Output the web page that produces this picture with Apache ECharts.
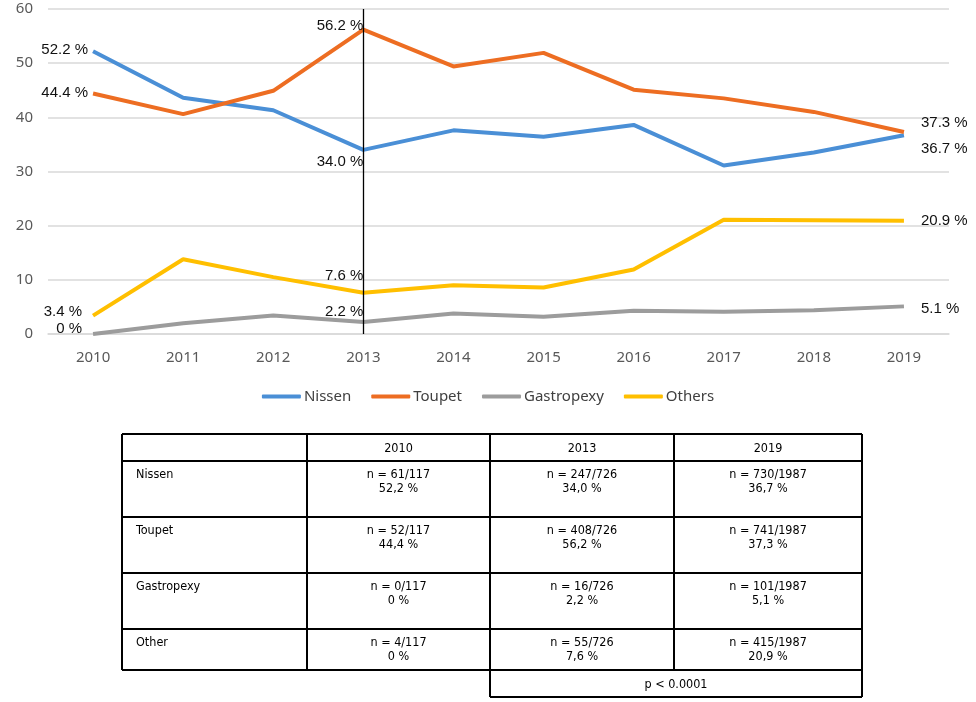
<!DOCTYPE html>
<html>
<head>
<meta charset="utf-8">
<script src="https://cdn.jsdelivr.net/npm/echarts@6/dist/echarts.min.js"></script>
<style>
  html, body { margin: 0; padding: 0; background: #fff; }
  #main { width: 976px; height: 702px; }
</style>
</head>
<body>
<div id="main"></div>
<script>
// 数据
var years = ['2010', '2011', '2012', '2013', '2014', '2015', '2016', '2017', '2018', '2019']
var nissen = [52.2, 43.6, 41.3, 34.0, 37.6, 36.4, 38.6, 31.1, 33.5, 36.7]
var toupet = [44.4, 40.6, 44.9, 56.2, 49.4, 51.9, 45.1, 43.5, 41.0, 37.3]
var gastropexy = [0, 2.0, 3.4, 2.2, 3.8, 3.2, 4.3, 4.1, 4.4, 5.1]
var others = [3.4, 13.8, 10.5, 7.6, 9.0, 8.6, 11.9, 21.1, 21.0, 20.9]
var yTicks = [0, 10, 20, 30, 40, 50, 60]

var tableYears = ['2010', '2013', '2019']
var tableRows = ['Nissen', 'Toupet', 'Gastropexy', 'Other']
var tableCounts = [
  ['n = 61/117', 'n = 247/726', 'n = 730/1987'],
  ['n = 52/117', 'n = 408/726', 'n = 741/1987'],
  ['n = 0/117', 'n = 16/726', 'n = 101/1987'],
  ['n = 4/117', 'n = 55/726', 'n = 415/1987']
]
var tablePcts = [
  ['52,2 %', '34,0 %', '36,7 %'],
  ['44,4 %', '56,2 %', '37,3 %'],
  ['0 %', '2,2 %', '5,1 %'],
  ['0 %', '7,6 %', '20,9 %']
]
var pText = 'p < 0.0001'

// 标签位置 (index -> label option)
var labelFont = { fontSize: 15, color: '#111', fontFamily: '"Liberation Sans", Arial, sans-serif' }
function withLabels(values, conf) {
  return values.map(function (v, i) {
    if (!conf[i]) return { value: v, label: { show: false } }
    return {
      value: v,
      label: Object.assign({ show: true, formatter: (v === 0 ? '0' : v.toFixed(1)) + ' %' }, labelFont, conf[i])
    }
  })
}

var myChart = echarts.init(document.getElementById('main'))

// 表格 graphic
var colX = [122, 307, 490, 674, 862]
var rowY = [434, 461, 517, 573, 629, 670]
var pBottom = 697
var tFont = '12.5px "Liberation Sans Narrow", "DejaVu Sans Condensed", Arial, sans-serif'
var graphics = []
function hLine(x1, x2, y) {
  graphics.push({ type: 'line', shape: { x1: x1, y1: y, x2: x2, y2: y }, style: { stroke: '#000', lineWidth: 2 } })
}
function vLine(x, y1, y2) {
  graphics.push({ type: 'line', shape: { x1: x, y1: y1, x2: x, y2: y2 }, style: { stroke: '#000', lineWidth: 2 } })
}
rowY.forEach(function (y) { hLine(colX[0], colX[4], y) })
colX.forEach(function (x) { vLine(x, rowY[0], rowY[rowY.length - 1]) })
hLine(colX[2], colX[4], pBottom)
vLine(colX[2], rowY[5], pBottom)
vLine(colX[4], rowY[5], pBottom)

function txt(x, y, s, align) {
  graphics.push({
    type: 'text', x: x, y: y,
    style: { text: s, font: tFont, fill: '#000', align: align || 'center', verticalAlign: 'middle' }
  })
}
tableYears.forEach(function (yr, j) {
  txt((colX[j + 1] + colX[j + 2]) / 2, (rowY[0] + rowY[1]) / 2 + 1, yr)
})
tableRows.forEach(function (name, i) {
  var top = rowY[i + 1]
  txt(colX[0] + 14, top + 14, name, 'left')
  tableCounts[i].forEach(function (c, j) {
    var cx = (colX[j + 1] + colX[j + 2]) / 2
    txt(cx, top + 14, c)
    txt(cx, top + 28, tablePcts[i][j])
  })
})
txt((colX[2] + colX[4]) / 2, (rowY[5] + pBottom) / 2 + 1, pText)

var axisFont = { fontSize: 15, color: '#595959', fontFamily: '"Noto Sans", "Open Sans", sans-serif' }

function lineSeries(name, color, data) {
  return {
    name: name, type: 'line',
    symbol: 'circle', symbolSize: 0.01, showSymbol: true,
    lineStyle: { width: 4, color: color }, itemStyle: { color: color },
    data: data
  }
}

var sNissen = lineSeries('Nissen', '#4a8fd6', withLabels(nissen, {
  0: { position: 'left', distance: 5, offset: [0, -1] },
  3: { position: 'left', distance: 0, offset: [0, 12] },
  9: { position: 'right', distance: 17, offset: [0, 14] }
}))
sNissen.markLine = {
  silent: true, symbol: 'none', label: { show: false },
  lineStyle: { color: '#000', width: 1.3, type: 'solid' },
  data: [{ xAxis: '2013' }]
}

var option = {
  animation: false,
  grid: { left: 48, right: 27, top: 9, bottom: 368 },
  legend: {
    data: ['Nissen', 'Toupet', 'Gastropexy', 'Others'],
    top: 384,
    left: 'center',
    icon: 'roundRect',
    itemWidth: 39,
    itemHeight: 4,
    itemGap: 20,
    textStyle: { fontSize: 15, color: '#404040', fontFamily: '"Noto Sans", "Open Sans", sans-serif', padding: [0, 0, 0, -2] }
  },
  xAxis: {
    type: 'category',
    data: years,
    boundaryGap: true,
    axisLine: { lineStyle: { color: '#d9d9d9', width: 1.5 } },
    axisTick: { show: false },
    axisLabel: Object.assign({ margin: 16 }, axisFont)
  },
  yAxis: {
    type: 'value',
    min: yTicks[0],
    max: yTicks[yTicks.length - 1],
    interval: 10,
    axisLine: { show: false },
    axisTick: { show: false },
    splitLine: { lineStyle: { color: '#d9d9d9', width: 1.5 } },
    axisLabel: Object.assign({ margin: 15 }, axisFont)
  },
  series: [
    sNissen,
    lineSeries('Toupet', '#ed6d22', withLabels(toupet, {
      0: { position: 'left', distance: 5, offset: [0, -1] },
      3: { position: 'left', distance: 0, offset: [0, -4] },
      9: { position: 'right', distance: 17, offset: [0, -9] }
    })),
    lineSeries('Gastropexy', '#9c9c9c', withLabels(gastropexy, {
      0: { position: 'left', distance: 11, offset: [0, -5] },
      3: { position: 'left', distance: 0, offset: [0, -10] },
      9: { position: 'right', distance: 17, offset: [0, 2] }
    })),
    lineSeries('Others', '#ffbf00', withLabels(others, {
      0: { position: 'left', distance: 11, offset: [0, -4] },
      3: { position: 'left', distance: 0, offset: [0, -17] },
      9: { position: 'right', distance: 17, offset: [0, 0] }
    }))
  ],
  graphic: graphics
}

myChart.setOption(option)
</script>
</body>
</html>
